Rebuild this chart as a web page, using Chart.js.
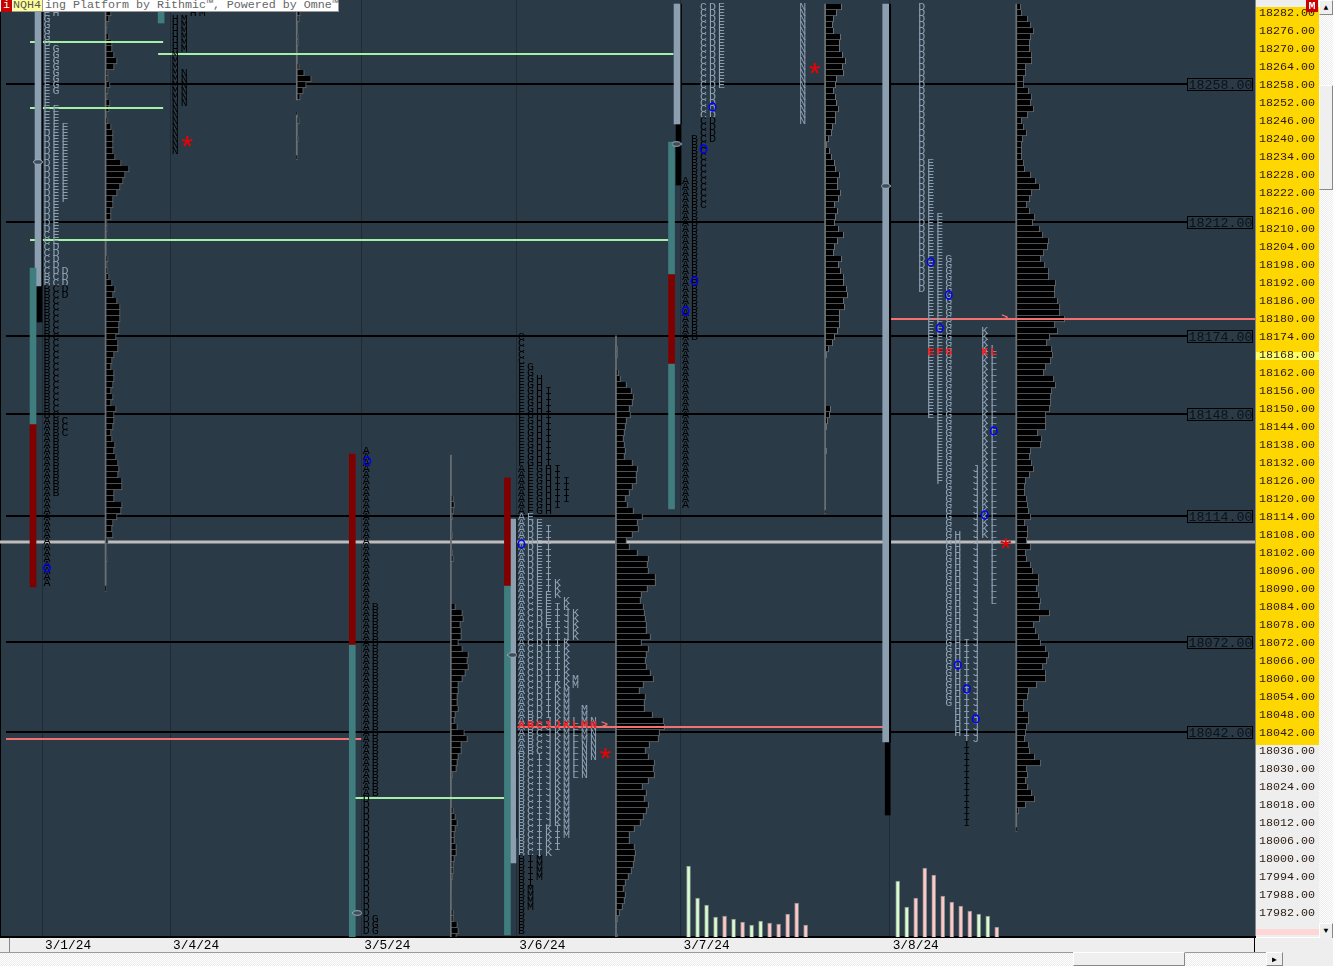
<!DOCTYPE html>
<html>
<head>
<meta charset="utf-8">
<title>NQH4 market profile</title>
<script src="https://cdn.jsdelivr.net/npm/chart.js@4"></script>
<style>
  html, body { margin: 0; padding: 0; background: #fff; overflow: hidden; }
  #wrap { position: relative; width: 1333px; height: 966px; overflow: hidden; font-family: "Liberation Mono", monospace; font-size: 11.67px; }
  canvas { position: absolute; left: 0; top: 0; }
  .box { position: absolute; box-sizing: border-box; }
  .track { background: repeating-conic-gradient(#fff 0 25%, #ececec 0 50%) 0 0 / 2px 2px; }
  .btn { background: #efefef; border: 1px solid #fff; border-right-color: #888; border-bottom-color: #888; text-align: center; color: #000; font-size: 8px; line-height: 13px; }
</style>
</head>
<body>
<div id="wrap">
  <canvas id="chart" width="1319" height="952"></canvas>
  <div class="box" style="left:0;top:0;width:339px;height:12px;background:#fff;border-right:1px solid #999;border-bottom:1px solid #999;color:#666;line-height:11px;padding-left:45px;white-space:pre;">ing Platform by Rithmic™, Powered by Omne™</div>
  <div class="box" style="left:1px;top:0;width:11px;height:12px;background:#c80000;color:#fff;text-align:center;line-height:11px;">i</div>
  <div class="box" style="left:13px;top:0;width:30px;height:12px;background:#ffff99;color:#555;line-height:11px;border-right:1px solid #999;border-bottom:1px solid #999;">NQH4</div>
  <div class="box" style="left:1306px;top:0;width:12px;height:12px;background:#c80000;color:#fff;text-align:center;line-height:12px;font-weight:bold;">M</div>
  <div class="box track" style="left:1319px;top:0;width:14px;height:939px;"></div>
  <div class="box btn" style="left:1319px;top:0;width:14px;height:15px;">▲</div>
  <div class="box btn" style="left:1319px;top:85px;width:14px;height:105px;"></div>
  <div class="box btn" style="left:1319px;top:923px;width:14px;height:16px;">▼</div>
  <div class="box" style="left:1254px;top:938px;width:79px;height:28px;background:#eee;border-left:1px solid #000;"></div>
  <div class="box track" style="left:0;top:952px;width:1283px;height:14px;border-top:1px solid #999;"></div>
  <div class="box btn" style="left:1073px;top:952px;width:112px;height:14px;"></div>
  <div class="box btn" style="left:1266px;top:952px;width:17px;height:14px;">▶</div>
  <div class="box" style="left:9px;top:938px;width:1px;height:14px;background:#888;"></div>
</div>
<script>
// Sessions
const sessionStarts = [42, 170, 361, 516, 680, 889];
const sessionLabels = ['3/1/24', '3/4/24', '3/5/24', '3/6/24', '3/7/24', '3/8/24'];

// Reference levels
const levelPrices = [18258, 18212, 18174, 18148, 18114, 18072, 18042];
const levelTags = ['18258.00', '18212.00', '18174.00', '18148.00', '18114.00', '18072.00', '18042.00'];
const closeLine = 18105.33;

// Naked levels: from x, to x, price
const greenLines = [[30, 163, 18272], [158, 673, 18268], [30, 163, 18250], [30, 668, 18206], [349, 504, 18020]];
const pinkLines = [[6, 361, 18039.67], [517, 883, 18043.67], [890, 1254, 18179.67]];

// Profile widths, top row index first
const profile1Top = 1;
const profile1 = [6,4,2,1,4,7,7,9,12,9,3,3,5,3,2,5,4,1,3,6,8,8,8,8,10,16,24,20,18,15,12,8,8,6,6,2,2,1,1,1,1,3,2,3,4,7,10,8,12,15,15,15,14,14,11,13,13,9,7,6,9,9,8,6,8,6,11,9,9,8,6,7,10,9,11,13,14,13,17,17,9,9,17,16,12,8,7,8,3,1,1,2,1,1,1,1,1];
const profile2Top = 1;
const profile2 = [4,3,1,1,2,2,1,1,1,3,8,15,10,7,4,null,null,1,3,1,1,2,1,1,1];
const profile3Top = 75;
const profile3 = [1,1,1,1,1,1,1,3,4,3,2,1,1,2,1,1,2,3,1,1,1,1,1,1,1,5,12,13,10,11,11,8,12,18,17,18,15,12,8,8,7,7,8,5,4,7,14,17,11,11,8,7,6,2,1,1,1,1,1,3,5,7,5,4,4,6,6,4,3,3,2,1,1,null,null,1,3,3,7,8,6];
const profile4Top = 55;
const profile4 = [1,1,2,2,1,1,3,5,11,16,18,17,14,15,11,10,9,8,9,10,9,17,22,21,21,17,14,10,12,18,27,22,23,17,11,14,22,33,32,33,40,40,32,26,25,28,29,30,31,31,35,26,33,31,30,31,35,38,28,24,30,29,29,37,48,49,44,43,34,30,33,39,38,39,33,27,31,29,33,31,28,25,19,14,14,19,20,19,18,16,13,10,8,10,9,7,4,2,1,1,2];
const profile5Top = 0;
const profile5 = [17,12,9,8,9,16,15,15,18,21,18,19,12,11,9,11,12,14,11,11,8,7,4,2,5,7,10,11,15,13,13,16,14,10,13,11,10,14,19,13,10,9,17,14,16,19,19,22,23,19,20,15,15,15,13,10,8,4,2,1,1,1,1,1,1,1,1,6,5,3,2,1,1,1,2,1,1,1,1,1,1,1,1,1,1];
const profile6Top = 0;
const profile6 = [5,6,12,15,18,15,14,14,16,16,10,10,8,8,13,16,15,18,12,6,8,11,7,6,6,6,8,9,15,20,24,16,14,11,14,19,17,24,27,33,32,28,25,29,33,33,40,39,39,42,44,44,49,39,42,34,31,36,37,35,30,28,38,40,36,35,35,34,30,30,30,22,26,25,15,14,16,18,14,10,9,9,11,12,13,15,9,12,12,11,15,10,11,15,17,23,23,21,23,25,24,34,24,18,20,23,25,30,33,31,27,30,30,21,13,12,8,8,13,13,11,10,9,13,14,19,25,11,12,10,12,16,19,10,3,1,1,1];
const profileStarts = [105, 296, 450, 615, 824, 1015];
const profileSpines = [[105.5, 18282, 18091], [296.5, 18282, 18252.67], [296.5, 18247.67, 18234.33], [450.5, 18134.33, 17973.67], [615.5, 18174, 17973.67], [824.5, 18284.67, 18116], [1015.5, 18284.67, 18010.33]];

// Range bars: x, high price, low price
const tealBars = [[33, 18196.67, 18144.67], [161, 18282, 18278.33], [352, 18071, 17973.67], [507, 18090.67, 17974.33], [671, 18238.67, 18194.67], [671, 18164.67, 18116.33]];
const redBars = [[33, 18144.67, 18090.33], [352, 18134.67, 18071], [507, 18126.67, 18090.67], [671, 18194.67, 18164.67]];
const greyBars = [[38, 18286, 18190.67], [512.5, 18113, 17998.33], [676.5, 18284.67, 18244.67], [885, 18284.67, 18038.67]];
const blackBars = [[39.5, 18190.67, 18178.67], [678, 18244.67, 18224.33], [887, 18038.67, 18014.33]];
const spineBars = [[41.5, 18286, 18190.67], [515.5, 18113, 18006.67], [680, 18284.67, 18244.67], [889, 18284.67, 18038.67]];
const ovalPoints = [[38, 18232], [357, 17981.67], [512, 18067.67], [676, 18238], [885, 18224]];

// Opening circles
const circleX = [47, 367, 521, 685, 694, 703, 712, 930, 939, 948, 957, 966, 975, 984, 993];
const circleY = [18096.67, 18132.33, 18104.67, 18182.33, 18192.33, 18236.33, 18250.33, 18198.67, 18176.67, 18187.67, 18064.33, 18056.33, 18046.33, 18114.33, 18142.33];

// Volume columns
const volX1 = [688, 697, 706, 715, 724, 733, 742, 751, 760, 769, 778, 787, 796, 805];
const vol1 = [71, 39, 32, 20, 21, 18, 15, 12, 16, 14, 13, 23, 34, 12];
const volUp1 = [1, 1, 1, 1, 0, 1, 0, 1, 1, 0, 0, 0, 0, 0];
const volX2 = [897, 906, 915, 924, 933, 942, 951, 960, 969, 978, 987, 996];
const vol2 = [56, 30, 39, 69, 62, 41, 35, 31, 26, 23, 21, 10];
const volUp2 = [1, 1, 0, 0, 0, 0, 0, 0, 0, 1, 1, 0];

// Letter columns: session, column, letter, first row, last row, grey or black
const tpoSpans = [
  [0,0,'E',1,1,'g'],[0,0,'G',2,6,'g'],[0,0,'F',7,16,'g'],[0,0,'E',17,20,'g'],[0,0,'D',21,37,'g'],[0,0,'C',38,44,'g'],[0,0,'B',45,46,'g'],[0,0,'B',47,68,'k'],[0,0,'A',69,96,'k'],
  [0,1,'H',1,1,'g'],[0,1,'G',7,14,'g'],[0,1,'F',17,20,'g'],[0,1,'E',21,39,'g'],[0,1,'D',40,44,'g'],[0,1,'C',45,46,'g'],[0,1,'C',47,68,'k'],[0,1,'B',69,81,'k'],
  [0,2,'F',20,32,'g'],[0,2,'D',44,46,'g'],[0,2,'D',47,48,'k'],[0,2,'C',69,71,'k'],
  [1,0,'H',2,7,'k'],[1,0,'M',8,15,'k'],[1,0,'N',16,24,'k'],[1,1,'M',2,7,'k'],[1,1,'N',11,16,'k'],[1,2,'H',1,1,'k'],[1,3,'M',1,1,'k'],[1,4,'H',0,0,'k'],
  [2,0,'A',74,131,'k'],[2,0,'D',132,154,'k'],[2,1,'B',100,131,'k'],[2,1,'G',152,154,'k'],
  [3,0,'C',55,59,'k'],[3,0,'F',60,76,'k'],[3,0,'A',77,84,'k'],[3,0,'A',85,124,'g'],[3,0,'B',125,141,'g'],[3,0,'B',142,154,'k'],
  [3,1,'G',60,76,'k'],[3,1,'F',77,84,'k'],[3,1,'E',85,85,'g'],[3,1,'D',86,98,'g'],[3,1,'C',99,117,'g'],[3,1,'B',118,124,'g'],[3,1,'C',125,141,'g'],[3,1,'I',142,146,'k'],[3,1,'M',147,150,'k'],
  [3,2,'H',62,76,'k'],[3,2,'G',77,84,'k'],[3,2,'E',86,100,'g'],[3,2,'D',101,118,'g'],[3,2,'C',119,124,'g'],[3,2,'I',125,141,'g'],[3,2,'M',142,145,'k'],
  [3,3,'I',64,76,'k'],[3,3,'H',77,84,'k'],[3,3,'I',87,97,'g'],[3,3,'E',98,103,'g'],[3,3,'I',104,118,'g'],[3,3,'J',119,136,'g'],[3,3,'K',137,141,'g'],
  [3,4,'I',77,83,'k'],[3,4,'K',96,98,'g'],[3,4,'I',100,112,'g'],[3,4,'K',113,136,'g'],[3,4,'I',137,140,'g'],
  [3,5,'I',79,82,'k'],[3,5,'K',99,100,'g'],[3,5,'J',101,105,'g'],[3,5,'K',106,113,'g'],[3,5,'M',114,138,'g'],
  [3,6,'K',101,105,'g'],[3,6,'M',112,113,'g'],[3,6,'L',119,128,'g'],
  [3,7,'M',117,122,'g'],[3,7,'N',123,128,'g'],[3,8,'N',119,125,'g'],
  [4,0,'A',29,83,'k'],[4,1,'B',22,55,'k'],[4,2,'C',0,18,'g'],[4,2,'C',19,33,'k'],[4,3,'D',0,18,'g'],[4,3,'D',19,22,'k'],[4,4,'E',0,13,'g'],[4,13,'N',0,19,'g'],
  [5,3,'D',0,47,'g'],[5,4,'E',26,68,'g'],[5,5,'F',35,79,'g'],[5,6,'G',42,116,'g'],[5,7,'H',88,121,'g'],[5,8,'I',106,122,'g'],[5,8,'I',123,136,'k'],[5,9,'J',77,122,'g'],[5,10,'K',54,88,'g'],[5,11,'L',57,99,'g']
];

// Red letters: session, column, letter, price
const redLetters = [
  [3,0,'A',18044.33],[3,1,'B',18044.33],[3,2,'C',18044.33],[3,3,'I',18044.33],[3,4,'J',18044.33],[3,5,'K',18044.33],[3,6,'L',18044.33],[3,7,'M',18044.33],[3,8,'N',18044.33],
  [5,4,'E',18168.67],[5,5,'F',18168.67],[5,6,'G',18168.67],[5,10,'K',18168.67],[5,11,'L',18168.67]
];
const starX = [187, 605, 814, 1005];
const starY = [18239, 18035, 18263.33, 18105];
const arrowX = [604, 1004];
const arrowY = [18044.33, 18180];

const ROW_TOP = 18286 - 7 / 3, ROW_STEP = 2;
const rowPrice = k => ROW_TOP - k * ROW_STEP;
const slotX = (s, c) => sessionStarts[s] + 5 + c * 9;

function profileData(widths, top, base) {
  const out = [];
  widths.forEach((w, i) => { if (w !== null) out.push({ x: [base, base + w], y: rowPrice(top + i) }); });
  return out;
}
function hBar(data) {
  return { type: 'bar', indexAxis: 'y', data, grouped: false, barThickness: 6, backgroundColor: '#000', borderColor: '#6a6f73', borderWidth: 1, borderSkipped: 'top', order: 5 };
}
function vBar(rows, color, thick, order) {
  return { type: 'bar', data: rows.map(r => ({ x: r[0], y: [r[2], r[1]] })), grouped: false, barThickness: thick, backgroundColor: color, borderWidth: 0, order: order === undefined ? 1 : order };
}
function hLine(x0, x1, p, color, w, order) {
  return { type: 'line', data: [{ x: x0, y: p }, { x: x1, y: p }], borderColor: color, borderWidth: w, pointRadius: 0, order };
}
function volBars(xs, vals, ups, want, color) {
  const data = [];
  xs.forEach((x, i) => { if (ups[i] === want) data.push({ x, y: vals[i] }); });
  return { type: 'bar', data, yAxisID: 'yVol', grouped: false, barThickness: 4, backgroundColor: color, borderColor: '#8a8a8a', borderWidth: 1, borderSkipped: 'bottom', order: 2 };
}
function noPadding(axis) {
  axis.paddingLeft = axis.paddingRight = axis.paddingTop = axis.paddingBottom = 0;
}

// small oval used as the range bar handle
const oval = document.createElement('canvas');
oval.width = 10; oval.height = 6;
(function () {
  const c = oval.getContext('2d');
  c.fillStyle = '#3d4c5a'; c.strokeStyle = '#a0aeba'; c.lineWidth = 1;
  c.beginPath(); c.ellipse(5, 3, 4.4, 2.3, 0, 0, Math.PI * 2); c.fill(); c.stroke();
})();

const datasets = [];
levelPrices.forEach(p => datasets.push(hLine(6, 1187, p, '#000', 2, 10)));
datasets.push(hLine(0, 1254, closeLine, '#bdbdbd', 3, 10));
const profiles = [[profile1, profile1Top], [profile2, profile2Top], [profile3, profile3Top], [profile4, profile4Top], [profile5, profile5Top], [profile6, profile6Top]];
profiles.forEach((p, i) => datasets.push(hBar(profileData(p[0], p[1], profileStarts[i]))));
datasets.push(vBar(profileSpines, '#6a6f73', 1, 4));
greenLines.forEach(l => datasets.push(hLine(l[0], l[1], l[2], '#a6f0a6', 2, 3)));
pinkLines.forEach(l => datasets.push(hLine(l[0], l[1], l[2], '#f57070', 2, 3)));
datasets.push(vBar(tealBars, '#3f7d7f', 6));
datasets.push(vBar(redBars, '#800000', 6));
datasets.push(vBar(greyBars, '#8c9fb1', 6));
datasets.push(vBar(blackBars, '#000', 5));
datasets.push(vBar(spineBars, '#000', 2));
datasets.push(volBars(volX1, vol1, volUp1, 1, '#d6ffd0'));
datasets.push(volBars(volX1, vol1, volUp1, 0, '#ffc8c8'));
datasets.push(volBars(volX2, vol2, volUp2, 1, '#d6ffd0'));
datasets.push(volBars(volX2, vol2, volUp2, 0, '#ffc8c8'));
datasets.push({ type: 'scatter', data: ovalPoints.map(p => ({ x: p[0], y: p[1] })), pointStyle: oval, order: 0 });

const MONO = '"Liberation Mono", monospace';

const paintPlugin = {
  id: 'paint',
  beforeDraw(chart) {
    const ctx = chart.ctx, a = chart.chartArea;
    ctx.save();
    ctx.fillStyle = '#2b3a47';
    ctx.fillRect(0, 0, a.right, a.bottom);
    ctx.fillStyle = '#000';
    ctx.fillRect(0, 0, 1, a.bottom);
    // price axis strip
    ctx.fillStyle = '#eeeeee';
    ctx.fillRect(a.right, 0, 64, a.bottom);
    ctx.fillStyle = '#ffd700';
    ctx.fillRect(a.right + 1, 7, 63, 738);
    ctx.fillStyle = '#ffff66';
    ctx.fillRect(a.right + 1, 352, 63, 8);
    ctx.fillStyle = '#ffd6d6';
    ctx.fillRect(a.right + 1, 929, 63, 6);
    ctx.fillStyle = '#888';
    ctx.fillRect(a.right, 0, 1, a.bottom);
    ctx.fillRect(a.right + 64, 0, 1, a.bottom);
    // date strip
    ctx.fillStyle = '#eeeeee';
    ctx.fillRect(0, a.bottom, a.right, 15);
    ctx.restore();
  },
  afterDatasetsDraw(chart) {
    const ctx = chart.ctx, xs = chart.scales.x, ys = chart.scales.y;
    ctx.save();
    ctx.textAlign = 'center';
    ctx.textBaseline = 'middle';
    ctx.font = '11.67px ' + MONO;
    tpoSpans.forEach(s => {
      ctx.fillStyle = s[5] === 'g' ? '#8ea1b3' : '#000';
      const x = xs.getPixelForValue(slotX(s[0], s[1]));
      for (let k = s[3]; k <= s[4]; k++) ctx.fillText(s[2], x, ys.getPixelForValue(rowPrice(k)));
    });
    ctx.fillStyle = '#ff2020';
    ctx.font = 'bold 11.67px ' + MONO;
    redLetters.forEach(r => ctx.fillText(r[2], xs.getPixelForValue(slotX(r[0], r[1])), ys.getPixelForValue(r[3])));
    arrowX.forEach((x, i) => {
      ctx.fillStyle = '#f57070';
      ctx.fillText('>', xs.getPixelForValue(x), ys.getPixelForValue(arrowY[i]));
    });
    // open markers
    ctx.strokeStyle = '#0000ff';
    ctx.lineWidth = 1.5;
    circleX.forEach((x, i) => {
      ctx.beginPath();
      ctx.ellipse(xs.getPixelForValue(x), ys.getPixelForValue(circleY[i]), 3.2, 4, 0, 0, Math.PI * 2);
      ctx.stroke();
    });
    // stars
    ctx.fillStyle = '#f00000';
    ctx.font = '30px ' + MONO;
    starX.forEach((x, i) => ctx.fillText('*', xs.getPixelForValue(x), ys.getPixelForValue(starY[i]) + 9));
    // level tags
    ctx.font = '13.33px ' + MONO;
    ctx.textAlign = 'left';
    levelPrices.forEach((p, i) => {
      const y = Math.round(ys.getPixelForValue(p));
      ctx.fillStyle = '#2b3a47';
      ctx.fillRect(1187, y - 6, 66, 13);
      ctx.strokeStyle = '#000';
      ctx.lineWidth = 1;
      ctx.strokeRect(1187.5, y - 5.5, 65, 12);
      ctx.fillStyle = '#0b1218';
      ctx.fillText(levelTags[i], 1188.5, y + 1);
    });
    ctx.restore();
  }
};

new Chart(document.getElementById('chart'), {
  type: 'bar',
  data: { datasets },
  plugins: [paintPlugin],
  options: {
    responsive: false,
    animation: false,
    layout: { padding: 0, autoPadding: false },
    plugins: { legend: { display: false }, tooltip: { enabled: false } },
    scales: {
      x: {
        type: 'linear', min: 0, max: 1254, offset: false,
        afterBuildTicks: axis => { axis.ticks = sessionStarts.map(v => ({ value: v })); },
        afterFit: axis => { axis.height = 15; noPadding(axis); },
        grid: { color: '#1f2c38', lineWidth: 1, drawTicks: false, offset: false },
        border: { color: '#000', width: 2 },
        ticks: {
          autoSkip: false, maxRotation: 0, padding: 1, labelOffset: 26, color: '#000',
          font: { family: MONO, size: 12.8 },
          callback: v => sessionLabels[sessionStarts.indexOf(v)]
        }
      },
      y: {
        type: 'linear', position: 'right', min: 18286 - 937 / 3, max: 18286, offset: false,
        afterFit: axis => { axis.width = 64; noPadding(axis); },
        grid: { display: false, drawTicks: false, offset: false },
        border: { display: false },
        ticks: {
          stepSize: 6, includeBounds: false, autoSkip: false, padding: 4, labelOffset: 1, color: '#2a1a10',
          font: { family: MONO, size: 11.67 },
          callback: v => (v < 17982 ? '' : v.toFixed(2))
        }
      },
      yVol: { type: 'linear', display: false, min: 0, max: 937, offset: false, grid: { display: false } }
    }
  }
});
</script>
</body>
</html>
